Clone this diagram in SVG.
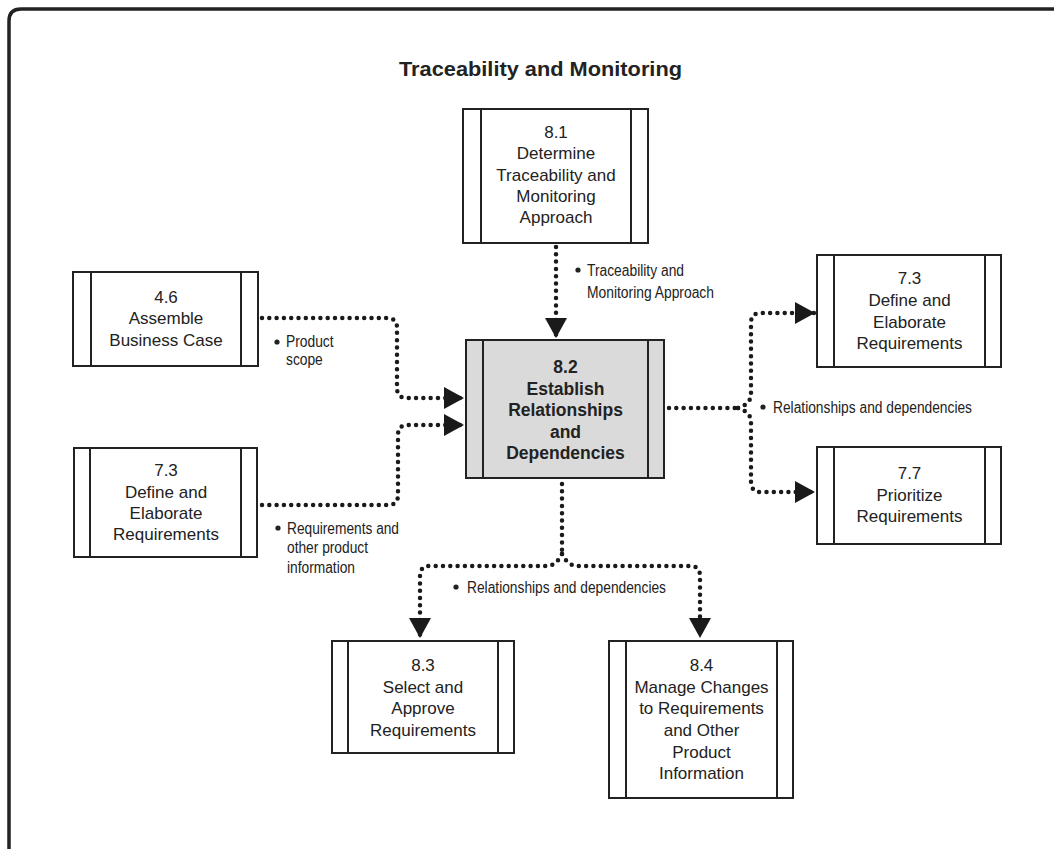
<svg xmlns="http://www.w3.org/2000/svg" width="1054" height="849" viewBox="0 0 1054 849">
<style>
.frame{fill:none;stroke:#222;stroke-width:3.5}
.box{fill:#fff;stroke:#222;stroke-width:2}
.box.main{fill:#dadada}
.bar{stroke:#222;stroke-width:2}
.nt{font-family:"Liberation Sans",Arial,sans-serif;font-size:17px;fill:#222;text-anchor:middle}
.nt.b{font-weight:bold;font-size:17.5px}
.title{font-family:"Liberation Sans",Arial,sans-serif;font-size:20px;font-weight:bold;fill:#222;text-anchor:middle}
.lbl{font-family:"Liberation Sans Narrow","Liberation Sans",Arial,sans-serif;font-size:16px;fill:#222}
.dot{fill:none;stroke:#1a1a1a;stroke-width:4.5;stroke-linecap:round;stroke-dasharray:0 7.3}
.bul{fill:#222}
</style>
<defs>
<marker id="ah" markerUnits="userSpaceOnUse" markerWidth="22" markerHeight="24" refX="20" refY="11" orient="auto">
<path d="M0,0 L20,11 L0,22 Z" fill="#1a1a1a"/>
</marker>
</defs>
<path class="frame" d="M9,849 V21 Q9,9 21,9 H1054"/>
<text class="title" x="540.5" y="76" textLength="283" lengthAdjust="spacingAndGlyphs">Traceability and Monitoring</text>

<g id="connectors">
<path class="dot" d="M556,247 V338" marker-end="url(#ah)"/>
<path class="dot" d="M262,318 H387 Q397,318 397,328 V388 Q397,398 407,398 H464" marker-end="url(#ah)"/>
<path class="dot" d="M262,505 H388 Q398,505 398,495 V435 Q398,425 408,425 H464" marker-end="url(#ah)"/>
<path class="dot" d="M669,408 H738"/>
<path class="dot" d="M738,408 Q751,404 751,394 V323 Q751,313 761,313 H815" marker-end="url(#ah)"/>
<path class="dot" d="M738,408 Q751,412 751,422 V482 Q751,492 761,492 H815" marker-end="url(#ah)"/>
<path class="dot" d="M562,484 V554"/>
<path class="dot" d="M562,554 Q556,566 546,566 H430 Q420,566 420,576 V638" marker-end="url(#ah)"/>
<path class="dot" d="M562,554 Q568,566 578,566 H690 Q700,566 700,576 V638" marker-end="url(#ah)"/>
</g>

<g id="labels">
<circle class="bul" cx="578" cy="270" r="2.6"/>
<text class="lbl" x="587" y="275.5" textLength="97" lengthAdjust="spacingAndGlyphs">Traceability and</text>
<text class="lbl" x="587" y="297.5" textLength="127" lengthAdjust="spacingAndGlyphs">Monitoring Approach</text>
<circle class="bul" cx="277" cy="342" r="2.6"/>
<text class="lbl" x="286" y="346.5" textLength="47.6" lengthAdjust="spacingAndGlyphs">Product</text>
<text class="lbl" x="286" y="365" textLength="36.8" lengthAdjust="spacingAndGlyphs">scope</text>
<circle class="bul" cx="278" cy="528" r="2.6"/>
<text class="lbl" x="287" y="533.5" textLength="112" lengthAdjust="spacingAndGlyphs">Requirements and</text>
<text class="lbl" x="287" y="553" textLength="81" lengthAdjust="spacingAndGlyphs">other product</text>
<text class="lbl" x="287" y="572.5" textLength="68" lengthAdjust="spacingAndGlyphs">information</text>
<circle class="bul" cx="763" cy="407" r="2.6"/>
<text class="lbl" x="773" y="412.5" textLength="199" lengthAdjust="spacingAndGlyphs">Relationships and dependencies</text>
<circle class="bul" cx="456" cy="587" r="2.6"/>
<text class="lbl" x="467" y="592.5" textLength="199" lengthAdjust="spacingAndGlyphs">Relationships and dependencies</text>
</g>

<g id="n81">
<rect class="box" x="463" y="109" width="185" height="134"/>
<line class="bar" x1="481" y1="109" x2="481" y2="243"/>
<line class="bar" x1="631" y1="109" x2="631" y2="243"/>
<text class="nt" x="556" y="138">8.1</text>
<text class="nt" x="556" y="159">Determine</text>
<text class="nt" x="556" y="181">Traceability and</text>
<text class="nt" x="556" y="202">Monitoring</text>
<text class="nt" x="556" y="223">Approach</text>
</g>

<g id="n46">
<rect class="box" x="73" y="272" width="185" height="94"/>
<line class="bar" x1="91" y1="272" x2="91" y2="366"/>
<line class="bar" x1="241" y1="272" x2="241" y2="366"/>
<text class="nt" x="166" y="303">4.6</text>
<text class="nt" x="166" y="324">Assemble</text>
<text class="nt" x="166" y="346">Business Case</text>
</g>

<g id="n73a">
<rect class="box" x="74" y="448" width="183" height="109"/>
<line class="bar" x1="90" y1="448" x2="90" y2="557"/>
<line class="bar" x1="241" y1="448" x2="241" y2="557"/>
<text class="nt" x="166" y="476">7.3</text>
<text class="nt" x="166" y="498">Define and</text>
<text class="nt" x="166" y="519">Elaborate</text>
<text class="nt" x="166" y="540">Requirements</text>
</g>

<g id="n82">
<rect class="box main" x="466" y="340" width="198" height="138"/>
<line class="bar" x1="483" y1="340" x2="483" y2="478"/>
<line class="bar" x1="648" y1="340" x2="648" y2="478"/>
<text class="nt b" x="565.5" y="373">8.2</text>
<text class="nt b" x="565.5" y="394.5">Establish</text>
<text class="nt b" x="565.5" y="416">Relationships</text>
<text class="nt b" x="565.5" y="438">and</text>
<text class="nt b" x="565.5" y="459">Dependencies</text>
</g>

<g id="n73b">
<rect class="box" x="817" y="255" width="184" height="112"/>
<line class="bar" x1="834" y1="255" x2="834" y2="367"/>
<line class="bar" x1="985" y1="255" x2="985" y2="367"/>
<text class="nt" x="909.5" y="284">7.3</text>
<text class="nt" x="909.5" y="306">Define and</text>
<text class="nt" x="909.5" y="328">Elaborate</text>
<text class="nt" x="909.5" y="349">Requirements</text>
</g>

<g id="n77">
<rect class="box" x="817" y="447" width="184" height="97"/>
<line class="bar" x1="834" y1="447" x2="834" y2="544"/>
<line class="bar" x1="985" y1="447" x2="985" y2="544"/>
<text class="nt" x="909.5" y="479">7.7</text>
<text class="nt" x="909.5" y="501">Prioritize</text>
<text class="nt" x="909.5" y="522">Requirements</text>
</g>

<g id="n83">
<rect class="box" x="332" y="641" width="182" height="112"/>
<line class="bar" x1="348" y1="641" x2="348" y2="753"/>
<line class="bar" x1="498" y1="641" x2="498" y2="753"/>
<text class="nt" x="423" y="671">8.3</text>
<text class="nt" x="423" y="693">Select and</text>
<text class="nt" x="423" y="714">Approve</text>
<text class="nt" x="423" y="736">Requirements</text>
</g>

<g id="n84">
<rect class="box" x="609" y="641" width="184" height="157"/>
<line class="bar" x1="626" y1="641" x2="626" y2="798"/>
<line class="bar" x1="777" y1="641" x2="777" y2="798"/>
<text class="nt" x="701.5" y="671">8.4</text>
<text class="nt" x="701.5" y="693">Manage Changes</text>
<text class="nt" x="701.5" y="714">to Requirements</text>
<text class="nt" x="701.5" y="736">and Other</text>
<text class="nt" x="701.5" y="758">Product</text>
<text class="nt" x="701.5" y="779">Information</text>
</g>
</svg>
